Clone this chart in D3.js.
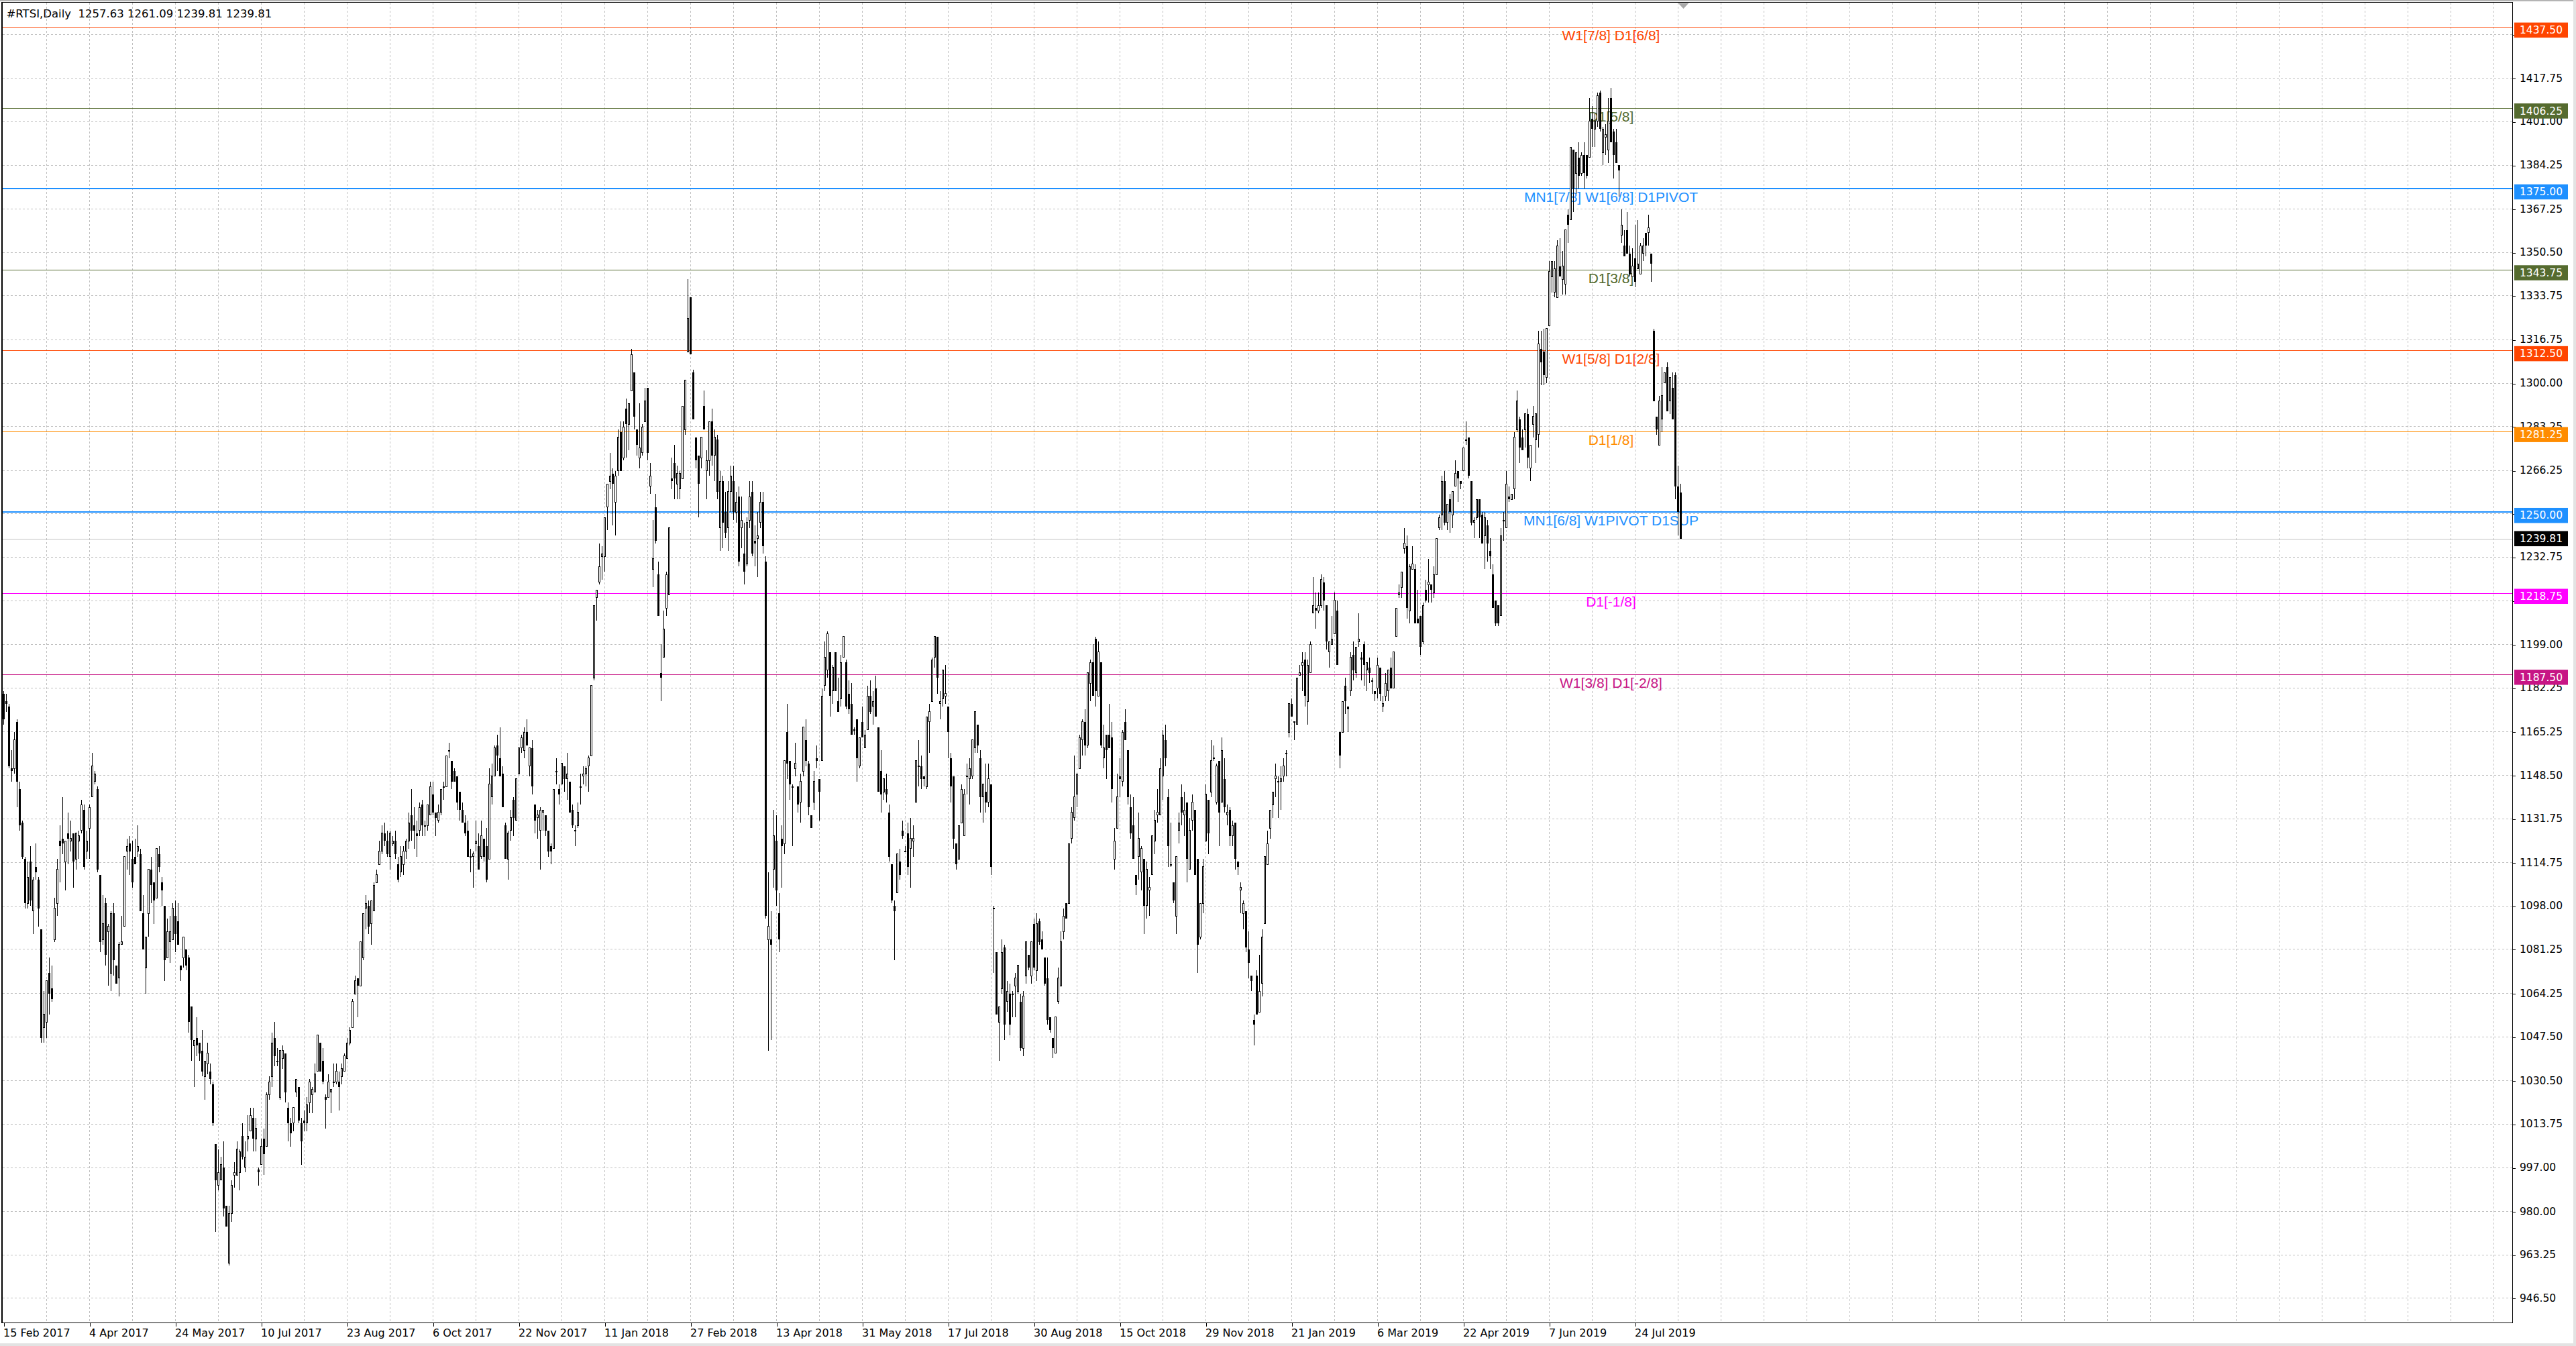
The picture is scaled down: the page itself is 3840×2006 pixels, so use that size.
<!DOCTYPE html>
<html>
<head>
<meta charset="utf-8">
<title>#RTSI,Daily</title>
<script src="https://cdn.jsdelivr.net/npm/d3@7"></script>
<style>
  html, body { margin: 0; padding: 0; background: #ffffff; overflow: hidden; }
  svg { display: block; }
</style>
</head>
<body>
<svg id="chart" width="3840" height="2006"></svg>
<script>
/*  #RTSI daily candles (MT4 style, black on white) with Murrey-type level lines.
    Each bar is [open, high, low, close].
 */

// 15 Feb 2017 .. late Aug 2017
const barsFeb2017 = [
  [1180,1181,1168,1170],[1177,1180,1173,1176],[1175,1176,1151,1152],[1151,1158,1146,1150],[1151,1165,1149,1162],
  [1169,1170,1136,1146],[1143,1146,1127,1129],[1130,1131,1116,1117],[1116,1117,1097,1099],[1099,1115,1097,1109],
  [1115,1121,1098,1100],[1096,1109,1087,1108],[1113,1122,1108,1111],[1108,1109,1090,1097],[1089,1089,1045,1047],
  [1051,1065,1045,1056],[1053,1069,1047,1069],[1072,1078,1056,1064],[1066,1075,1061,1062],[1085,1101,1084,1097],
  [1099,1116,1094,1112],[1123,1129,1107,1121],[1124,1140,1118,1122],[1115,1123,1104,1123],[1126,1134,1114,1124],
  [1123,1131,1119,1124],[1126,1126,1105,1115],[1116,1126,1112,1126],[1123,1127,1116,1125],[1127,1139,1126,1137],
  [1135,1137,1112,1113],[1119,1127,1116,1123],[1128,1137,1116,1136],[1140,1157,1140,1152],[1146,1150,1145,1149],
  [1143,1144,1111,1112],[1110,1110,1080,1084],[1085,1102,1083,1091],[1099,1101,1075,1079],[1088,1091,1067,1090],
  [1072,1096,1065,1095],[1095,1099,1071,1077],[1075,1075,1068,1068],[1070,1084,1063,1083],[1083,1094,1083,1084],
  [1090,1117,1090,1117],[1119,1124,1112,1121],[1122,1125,1110,1119],[1116,1123,1105,1107],[1117,1124,1114,1114],
  [1119,1129,1117,1121],[1118,1120,1096,1096],[1095,1102,1081,1081],[1074,1086,1064,1086],[1095,1112,1086,1112],
  [1112,1117,1099,1106],[1107,1107,1091,1100],[1101,1120,1101,1120],[1118,1121,1111,1113],[1107,1109,1098,1104],
  [1098,1098,1069,1077],[1078,1093,1078,1088],[1084,1094,1076,1088],[1085,1099,1085,1097],[1094,1100,1080,1087],
  [1092,1099,1083,1083],[1075,1075,1069,1073],[1078,1086,1074,1086],[1081,1081,1073,1075],[1078,1079,1049,1053],
  [1059,1059,1038,1046],[1044,1046,1028,1046],[1047,1055,1040,1044],[1045,1045,1038,1041],[1042,1050,1032,1034],
  [1032,1038,1023,1038],[1037,1045,1033,1041],[1034,1037,1029,1031],[1029,1030,1013,1014],[1006,1006,972,992],
  [990,1004,988,995],[992,1001,992,998],[997,1007,978,981],[982,982,974,974],[960,982,959,979],
  [979,992,976,990],[994,999,989,995],[994,1007,994,1004],[995,1004,988,1003],[1009,1014,1000,1001],
  [997,1007,995,1001],[1008,1017,1003,1009],[1011,1020,1011,1017],[1016,1020,1003,1008],[1008,1016,1003,1012],
  [996,997,990,995],[998,1008,998,1005],[1008,1012,994,1002],[1005,1026,1005,1025],[1025,1032,1023,1030],
  [1032,1049,1028,1045],[1047,1053,1036,1040],[1038,1043,1036,1038],[1024,1042,1023,1042],[1039,1044,1035,1042],
  [1041,1041,1022,1026],[1020,1022,1007,1014],[1014,1016,1005,1010],[1014,1020,1011,1020],[1026,1031,1024,1031],
  [1028,1028,1014,1015],[1014,1016,998,1007],[1015,1019,1011,1014],[1014,1024,1011,1021],[1022,1031,1018,1030],
  [1025,1028,1018,1027],[1026,1037,1026,1033],[1034,1048,1034,1048],[1045,1045,1034,1034],[1038,1043,1029,1030],
  [1024,1025,1012,1023],[1024,1033,1024,1030],[1026,1027,1018,1027],[1030,1037,1028,1030],[1030,1037,1029,1034],
  [1030,1034,1019,1028],[1032,1037,1029,1035],[1034,1041,1034,1040],[1039,1047,1039,1045],[1045,1051,1044,1050],
  [1051,1062,1051,1061],[1064,1071,1064,1069],[1070,1070,1055,1067],[1067,1084,1067,1084]
];

// late Aug 2017 .. early Mar 2018
const barsAug2017 = [
  [1078,1095,1077,1095],[1097,1102,1089,1099],[1098,1100,1087,1090],[1091,1100,1083,1100],[1096,1107,1096,1106],
  [1107,1112,1107,1110],[1114,1123,1114,1119],[1119,1129,1118,1126],[1126,1130,1121,1123],[1123,1127,1117,1118],
  [1117,1127,1112,1126],[1122,1125,1121,1123],[1123,1127,1116,1118],[1114,1117,1107,1108],[1111,1121,1109,1117],
  [1114,1121,1110,1119],[1119,1124,1116,1123],[1123,1134,1120,1130],[1133,1143,1123,1127],[1129,1136,1120,1127],
  [1126,1131,1117,1125],[1127,1138,1125,1136],[1137,1139,1125,1129],[1129,1131,1125,1129],[1129,1137,1127,1137],
  [1133,1146,1133,1144],[1141,1146,1133,1134],[1134,1134,1125,1132],[1131,1137,1130,1134],[1134,1143,1133,1143],
  [1144,1146,1139,1144],[1144,1156,1144,1156],[1158,1161,1155,1158],[1154,1154,1143,1146],[1150,1151,1146,1146],
  [1148,1148,1135,1138],[1142,1142,1131,1135],[1135,1138,1130,1130],[1130,1133,1125,1126],[1127,1131,1117,1117],
  [1117,1120,1111,1117],[1117,1119,1105,1118],[1122,1131,1119,1123],[1121,1126,1112,1112],[1117,1131,1116,1125],
  [1124,1124,1115,1117],[1121,1128,1107,1108],[1116,1151,1116,1145],[1140,1153,1137,1148],[1148,1160,1148,1159],
  [1160,1164,1150,1156],[1155,1167,1148,1148],[1149,1152,1136,1136],[1129,1130,1116,1116],[1116,1127,1108,1126],
  [1127,1135,1123,1132],[1139,1140,1125,1132],[1131,1147,1131,1147],[1149,1159,1149,1159],[1159,1164,1157,1163],
  [1158,1167,1155,1165],[1165,1170,1160,1160],[1152,1159,1148,1159],[1159,1162,1141,1144],[1137,1137,1126,1131],
  [1132,1135,1124,1133],[1127,1136,1112,1135],[1134,1135,1127,1135],[1133,1133,1125,1127],[1127,1127,1117,1119],
  [1121,1122,1114,1119],[1120,1143,1120,1143],[1150,1155,1145,1150],[1143,1145,1137,1141],[1145,1153,1145,1153],
  [1152,1152,1142,1147],[1147,1157,1139,1149],[1146,1146,1134,1134],[1135,1137,1128,1129],[1127,1129,1121,1127],
  [1129,1138,1128,1134],[1144,1149,1137,1144],[1148,1152,1145,1149],[1149,1152,1144,1151],[1152,1156,1142,1155],
  [1156,1183,1156,1183],[1186,1214,1185,1214],[1217,1220,1208,1220],[1223,1238,1222,1229],[1233,1237,1224,1234],
  [1233,1248,1227,1248],[1252,1261,1243,1261],[1262,1273,1259,1264],[1265,1267,1245,1261],[1254,1266,1241,1264],
  [1266,1282,1264,1279],[1281,1285,1266,1266],[1271,1285,1270,1283],[1290,1294,1271,1284],[1284,1292,1274,1292],
  [1297,1313,1297,1311],[1304,1304,1282,1287],[1282,1282,1272,1276],[1271,1292,1267,1275],[1273,1284,1272,1283],
  [1285,1298,1285,1293],[1298,1298,1270,1273],[1260,1269,1257,1264],[1228,1247,1221,1232],[1252,1257,1238,1239],
  [1226,1231,1210,1210],[1188,1199,1177,1186],[1194,1212,1194,1205],[1213,1227,1210,1226],[1218,1244,1218,1244],
  [1263,1271,1259,1262],[1269,1276,1255,1263],[1261,1268,1255,1265],[1259,1266,1255,1265],[1263,1291,1263,1291],
  [1282,1301,1280,1301],[1312,1340,1312,1325],[1333,1333,1311,1311],[1304,1305,1286,1286],[1279,1279,1267,1270],
  [1272,1272,1248,1261],[1271,1279,1267,1279],[1291,1297,1282,1282],[1266,1274,1255,1270],[1270,1285,1264,1285]
];

// early Mar 2018 .. mid Sep 2018
const barsMar2018 = [
  [1285,1290,1268,1272],[1272,1282,1262,1279],[1278,1280,1255,1258],[1244,1266,1235,1262],[1262,1264,1236,1246],
  [1250,1258,1240,1242],[1244,1262,1235,1258],[1258,1268,1250,1264],[1262,1268,1247,1250],[1250,1258,1246,1254],
  [1256,1260,1229,1231],[1244,1256,1236,1247],[1234,1246,1222,1227],[1230,1248,1229,1246],[1247,1262,1244,1256],
  [1258,1262,1233,1234],[1239,1245,1229,1238],[1240,1250,1225,1241],[1246,1258,1244,1254],[1254,1258,1234,1237],
  [1231,1233,1093,1094],[1085,1111,1042,1090],[1085,1096,1046,1083],[1112,1135,1105,1125],[1123,1133,1098,1104],
  [1095,1103,1080,1085],[1124,1129,1105,1121],[1122,1154,1118,1154],[1165,1176,1147,1153],[1154,1154,1139,1145],
  [1144,1145,1121,1144],[1151,1161,1148,1153],[1144,1144,1134,1137],[1138,1149,1130,1146],[1150,1167,1148,1167],
  [1162,1170,1152,1154],[1153,1154,1133,1136],[1133,1133,1128,1128],[1138,1150,1135,1146],[1155,1160,1151,1154],
  [1147,1147,1131,1142],[1154,1182,1154,1179],[1183,1200,1181,1194],[1189,1204,1186,1203],[1196,1196,1171,1179],
  [1181,1191,1176,1190],[1196,1196,1181,1181],[1177,1186,1173,1173],[1178,1195,1175,1192],[1194,1202,1194,1202],
  [1192,1193,1174,1175],[1180,1185,1172,1174],[1176,1184,1164,1164],[1166,1167,1164,1166],[1170,1170,1146,1155],
  [1152,1163,1151,1163],[1169,1175,1163,1163],[1159,1166,1159,1164],[1166,1183,1166,1179],[1179,1185,1172,1173],
  [1175,1181,1168,1177],[1182,1187,1171,1171],[1167,1167,1142,1142],[1150,1158,1134,1141],[1142,1147,1139,1147],
  [1143,1149,1138,1141],[1134,1137,1115,1117],[1114,1114,1099,1100],[1098,1100,1077,1096],[1103,1118,1103,1118],
  [1115,1120,1108,1110],[1127,1131,1124,1125],[1119,1121,1119,1119],[1126,1130,1110,1113],[1120,1132,1105,1124],
  [1123,1129,1117,1124],[1138,1154,1138,1154],[1152,1162,1144,1152],[1152,1156,1143,1147],[1148,1148,1144,1147],
  [1144,1171,1143,1171],[1169,1176,1157,1173],[1177,1194,1177,1193],[1194,1202,1190,1202],[1202,1202,1180,1186],
  [1176,1181,1170,1177],[1178,1189,1175,1189],[1179,1191,1176,1180],[1175,1175,1155,1165],[1155,1157,1138,1144],
  [1148,1148,1120,1124],[1122,1122,1112,1114],[1116,1129,1116,1129],[1130,1145,1130,1143],[1125,1143,1125,1141],
  [1148,1153,1141,1148],[1147,1155,1137,1151],[1148,1162,1147,1162],[1159,1173,1157,1173],[1168,1168,1157,1160],
  [1155,1158,1134,1140],[1140,1145,1130,1145],[1142,1153,1134,1138],[1138,1153,1136,1147],[1145,1145,1110,1113],
  [1097,1098,1072,1097],[1080,1080,1056,1056],[1053,1059,1038,1059],[1066,1085,1064,1080],[1082,1083,1046,1052],
  [1061,1069,1057,1065],[1064,1068,1048,1052],[1064,1065,1055,1064],[1067,1072,1055,1070],[1065,1075,1064,1075],
  [1061,1064,1042,1043],[1043,1065,1040,1063],[1071,1084,1068,1084],[1079,1079,1073,1074],[1071,1084,1068,1084],
  [1091,1093,1073,1074],[1073,1095,1069,1091],[1092,1093,1083,1084],[1085,1088,1081,1081],[1078,1078,1067,1068],
  [1070,1078,1052,1054],[1055,1055,1049,1050],[1047,1047,1039,1043],[1041,1055,1041,1055],[1061,1074,1060,1070],
  [1067,1088,1067,1084],[1088,1097,1085,1094],[1099,1099,1093,1093],[1099,1122,1099,1122],[1124,1136,1122,1134]
];

// mid Sep 2018 .. early Mar 2019
const barsSep2018 = [
  [1132,1156,1131,1140],[1141,1149,1136,1149],[1151,1164,1151,1163],[1162,1170,1156,1169],[1169,1174,1156,1160],
  [1160,1188,1159,1188],[1184,1193,1177,1192],[1192,1199,1179,1179],[1201,1202,1175,1181],[1179,1200,1179,1196],
  [1192,1192,1159,1160],[1155,1168,1151,1159],[1164,1164,1147,1158],[1164,1176,1159,1159],[1163,1169,1138,1143],
  [1116,1128,1112,1123],[1128,1149,1128,1140],[1148,1155,1140,1147],[1146,1166,1144,1165],[1169,1174,1162,1162],
  [1158,1158,1137,1140],[1136,1141,1124,1126],[1129,1140,1116,1116],[1110,1110,1102,1106],[1117,1134,1108,1124],
  [1111,1121,1104,1120],[1116,1116,1087,1098],[1098,1115,1093,1112],[1104,1109,1094,1105],[1110,1125,1110,1125],
  [1123,1135,1118,1131],[1133,1143,1130,1134],[1133,1155,1133,1151],[1148,1166,1139,1164],[1162,1168,1152,1155],
  [1140,1143,1113,1121],[1114,1130,1113,1114],[1107,1107,1099,1100],[1094,1117,1087,1117],[1127,1134,1122,1130],
  [1140,1145,1129,1134],[1133,1142,1125,1135],[1138,1138,1107,1116],[1112,1132,1112,1127],[1131,1141,1127,1138],
  [1135,1135,1110,1110],[1116,1116,1072,1083],[1086,1099,1085,1099],[1099,1116,1095,1113],[1123,1145,1123,1141],
  [1139,1139,1118,1126],[1142,1162,1140,1154],[1155,1160,1154,1155],[1138,1153,1137,1152],[1154,1154,1121,1134],
  [1138,1163,1138,1158],[1147,1155,1134,1136],[1133,1137,1129,1134],[1135,1136,1121,1125],[1125,1131,1121,1129],
  [1130,1130,1112,1116],[1115,1115,1110,1113],[1104,1107,1095,1105],[1095,1100,1089,1099],[1096,1096,1080,1082],
  [1081,1088,1070,1076],[1071,1071,1065,1069],[1054,1056,1044,1052],[1071,1073,1056,1056],[1057,1079,1057,1065],
  [1068,1089,1063,1086],[1091,1117,1091,1117],[1114,1127,1114,1122],[1128,1135,1124,1135],[1137,1142,1132,1142],
  [1147,1153,1140,1148],[1146,1148,1132,1146],[1146,1152,1135,1147],[1148,1155,1146,1152],[1157,1158,1148,1157],
  [1165,1176,1163,1176],[1176,1178,1171,1171],[1169,1169,1162,1169],[1168,1186,1168,1186],[1187,1191,1187,1188],
  [1191,1196,1181,1192],[1193,1196,1175,1179],[1177,1193,1168,1191],[1188,1200,1188,1199],[1211,1225,1211,1214],
  [1213,1219,1205,1212],[1212,1219,1211,1214],[1214,1226,1213,1224],[1223,1225,1212,1216],[1214,1214,1197,1200],
  [1196,1200,1190,1200],[1199,1210,1199,1201],[1203,1219,1203,1216],[1212,1216,1191,1191],[1165,1165,1151,1156],
  [1165,1177,1165,1177],[1183,1186,1172,1177],[1175,1175,1165,1174],[1181,1196,1179,1194],[1195,1200,1185,1189],
  [1188,1198,1186,1198],[1200,1211,1198,1201],[1194,1196,1185,1193],[1199,1200,1183,1191],[1189,1192,1181,1192],
  [1190,1194,1184,1188],[1185,1186,1180,1185],[1181,1181,1177,1180],[1182,1194,1178,1191],[1190,1190,1177,1180],
  [1175,1179,1173,1176],[1179,1188,1177,1184],[1181,1189,1177,1189],[1190,1194,1182,1182],[1182,1196,1182,1196],
  [1202,1213,1202,1213],[1218,1222,1217,1219],[1221,1227,1217,1227],[1236,1244,1234,1238],[1237,1241,1209,1213],
  [1212,1230,1207,1229],[1228,1237,1228,1230],[1228,1230,1207,1207],[1209,1220,1207,1207],[1210,1210,1195,1198],
  [1200,1215,1199,1214],[1220,1224,1215,1216],[1222,1232,1215,1223],[1222,1222,1215,1220],[1219,1229,1217,1226]
];

// early Mar 2019 .. Aug 2019
const barsMar2019 = [
  [1226,1240,1226,1240],[1244,1249,1243,1248],[1249,1264,1243,1262],[1262,1266,1245,1246],[1246,1253,1243,1253],
  [1255,1257,1242,1250],[1249,1258,1244,1258],[1260,1270,1260,1265],[1266,1266,1254,1263],[1262,1262,1259,1261],
  [1266,1275,1266,1275],[1278,1285,1276,1278],[1279,1279,1263,1264],[1262,1262,1245,1246],[1246,1248,1240,1247],
  [1248,1255,1247,1255],[1255,1255,1240,1248],[1249,1250,1238,1238],[1241,1250,1228,1248],[1245,1247,1231,1238],
  [1235,1240,1228,1233],[1226,1230,1213,1213],[1216,1216,1206,1207],[1214,1214,1206,1207],[1210,1244,1210,1241],
  [1247,1250,1239,1247],[1244,1266,1244,1261],[1256,1260,1254,1255],[1255,1257,1255,1257],[1259,1281,1255,1279],
  [1282,1297,1281,1293],[1286,1287,1269,1275],[1279,1282,1274,1274],[1282,1288,1275,1288],[1288,1290,1267,1271],
  [1267,1276,1262,1276],[1284,1291,1279,1287],[1278,1288,1269,1288],[1280,1320,1275,1315],[1313,1320,1299,1308],
  [1312,1321,1299,1303],[1302,1321,1300,1321],[1322,1347,1322,1343],[1341,1347,1335,1347],[1335,1347,1333,1344],
  [1333,1355,1333,1353],[1345,1356,1341,1341],[1340,1351,1334,1345],[1338,1359,1334,1359],[1365,1367,1354,1361],
  [1363,1391,1363,1391],[1390,1390,1366,1375],[1381,1389,1373,1389],[1387,1393,1375,1380],[1381,1389,1380,1388],
  [1388,1393,1375,1381],[1388,1388,1379,1380],[1387,1410,1387,1401],[1402,1407,1391,1398],[1398,1404,1391,1401],
  [1401,1412,1399,1411],[1412,1413,1397,1398],[1389,1399,1384,1398],[1395,1400,1388,1396],[1390,1410,1385,1401],
  [1410,1414,1393,1393],[1397,1398,1379,1388],[1393,1398,1385,1385],[1384,1384,1372,1382],[1357,1367,1354,1361],
  [1353,1359,1349,1349],[1359,1366,1350,1350],[1350,1353,1341,1342],[1341,1352,1341,1345],[1348,1361,1337,1339],
  [1344,1363,1344,1346],[1342,1354,1342,1353],[1350,1356,1347,1353],[1358,1358,1349,1353],[1358,1365,1353,1360],
  [1350,1350,1339,1346],[1320,1321,1293,1293],[1287,1287,1280,1282],[1276,1295,1276,1293],[1286,1306,1281,1295],
  [1300,1304,1300,1304],[1306,1308,1289,1289],[1293,1302,1288,1302],[1298,1304,1286,1286],[1303,1304,1255,1260],
  [1260,1268,1241,1250],[1257.63,1261.09,1239.81,1239.81]
];

// Time axis labels, one every 32 bars starting at the first bar
const dateLabels = ["15 Feb 2017", "4 Apr 2017", "24 May 2017", "10 Jul 2017", "23 Aug 2017",
                    "6 Oct 2017", "22 Nov 2017", "11 Jan 2018", "27 Feb 2018", "13 Apr 2018",
                    "31 May 2018", "17 Jul 2018", "30 Aug 2018", "15 Oct 2018", "29 Nov 2018",
                    "21 Jan 2019", "6 Mar 2019", "22 Apr 2019", "7 Jun 2019", "24 Jul 2019"];

// Price axis labels (right side)
const priceTicks = [1434.75, 1417.75, 1401.00, 1384.25, 1367.25, 1350.50, 1333.75, 1316.75, 1300.00, 1283.25,
                    1266.25, 1249.50, 1232.75, 1216.00, 1199.00, 1182.25, 1165.25, 1148.50, 1131.75, 1114.75,
                    1098.00, 1081.25, 1064.25, 1047.50, 1030.50, 1013.75, 997.00, 980.00, 963.25, 946.50];

// Horizontal level lines and their captions
const levelPrices = [1437.50, 1406.25, 1375.00, 1343.75, 1312.50, 1281.25, 1250.00, 1218.75, 1187.50];
const levelNames  = ["W1[7/8] D1[6/8]", "D1[5/8]", "MN1[7/8] W1[6/8] D1PIVOT", "D1[3/8]", "W1[5/8] D1[2/8]",
                     "D1[1/8]", "MN1[6/8] W1PIVOT D1SUP", "D1[-1/8]", "W1[3/8] D1[-2/8]"];

const symbolName = "#RTSI,Daily";


// ---------------------------  STYLE  ---------------------------
const levelColors = ["#FF4500", "#556B2F", "#1E90FF", "#556B2F", "#FF4500",
                     "#FF8C00", "#1E90FF", "#FF00FF", "#C71585"];
const levelWidths = [1, 1, 2, 1, 1, 1, 2, 1, 1];

const W = 3840, H = 2006;
const plot = {left: 4, top: 4, right: 3745, bottom: 1971};
const axisFont = "'DejaVu Sans', Verdana, sans-serif";
const levelFont = "'Liberation Sans', Arial, sans-serif";
const gridColor = "#C0C0C0";


// ---------------------------  SCALES  ---------------------------
const bars = [].concat(barsFeb2017, barsAug2017, barsMar2018, barsSep2018, barsMar2019);
const lastBar = bars[bars.length - 1];

// one bar every 4 px; domain runs past the data into the empty chart-shift area
const x = d3.scaleLinear().domain([0, 935]).range([5.5, 5.5 + 935 * 4]);
const y = d3.scaleLinear().domain([937.0, 1446.7]).range([plot.bottom, 4.6]);

const crisp = v => Math.round(v) + 0.5;    // put a 1px line on a pixel centre

const svg = d3.select("#chart");

svg.append("rect").attr("width", W).attr("height", H).attr("fill", "#ffffff");


// ---------------------------  GRID  ---------------------------
const grid = svg.append("g").attr("shape-rendering", "crispEdges");

grid.selectAll("line.vgrid")
    .data(d3.range(16, 936, 16).filter(i => x(i) < plot.right))
    .join("line")
    .attr("x1", d => x(d)).attr("x2", d => x(d))
    .attr("y1", plot.top).attr("y2", plot.bottom)
    .attr("stroke", gridColor).attr("stroke-width", 1)
    .attr("stroke-dasharray", "3,3");

grid.selectAll("line.hgrid")
    .data(priceTicks)
    .join("line")
    .attr("x1", plot.left).attr("x2", plot.right)
    .attr("y1", d => crisp(y(d))).attr("y2", d => crisp(y(d)))
    .attr("stroke", gridColor).attr("stroke-width", 1)
    .attr("stroke-dasharray", "3,3");


// ---------------------------  LEVELS  ---------------------------
const levels = levelPrices.map((p, i) => ({price: p, name: levelNames[i], color: levelColors[i], width: levelWidths[i]}));

const gLevels = svg.append("g");

// current price line
gLevels.append("line")
    .attr("x1", plot.left).attr("x2", plot.right)
    .attr("y1", crisp(y(lastBar[3]))).attr("y2", crisp(y(lastBar[3])))
    .attr("stroke", "#C0C0C0").attr("stroke-width", 1)
    .attr("shape-rendering", "crispEdges");

gLevels.selectAll("line.level")
    .data(levels)
    .join("line")
    .attr("x1", plot.left).attr("x2", plot.right)
    .attr("y1", d => d.width === 1 ? crisp(y(d.price)) : Math.round(y(d.price)))
    .attr("y2", d => d.width === 1 ? crisp(y(d.price)) : Math.round(y(d.price)))
    .attr("stroke", d => d.color).attr("stroke-width", d => d.width)
    .attr("shape-rendering", "crispEdges");

const captionBar = 599;     // captions are centred over this bar
gLevels.selectAll("text.level")
    .data(levels)
    .join("text")
    .attr("x", x(captionBar))
    .attr("y", d => y(d.price) + 20)
    .attr("text-anchor", "middle")
    .attr("font-family", levelFont)
    .attr("font-size", 21)
    .attr("fill", d => d.color)
    .text(d => d.name);


// ---------------------------  CANDLES  ---------------------------
const gCandles = svg.append("g").attr("shape-rendering", "crispEdges");

const candle = gCandles.selectAll("g.candle")
    .data(bars)
    .join("g");

candle.append("line")
    .attr("x1", (d, i) => x(i)).attr("x2", (d, i) => x(i))
    .attr("y1", d => y(d[1])).attr("y2", d => y(d[2]))
    .attr("stroke", "#000000").attr("stroke-width", 1);

candle.append("rect")
    .attr("x", (d, i) => d[3] >= d[0] ? x(i) - 1 : x(i) - 1.5)
    .attr("width", d => d[3] >= d[0] ? 2 : 3)
    .attr("y", d => y(Math.max(d[0], d[3])))
    .attr("height", d => Math.max(1, Math.abs(y(d[0]) - y(d[3]))))
    .attr("fill", d => d[3] >= d[0] ? "#ffffff" : "#000000")
    .attr("stroke", d => d[3] >= d[0] ? "#000000" : "none")
    .attr("stroke-width", 1);


// ---------------------------  AXES  ---------------------------
const yAxis = svg.append("g")
    .attr("transform", `translate(${plot.right + 0.5},0)`)
    .call(d3.axisRight(y).tickValues(priceTicks).tickFormat(d3.format(".2f"))
            .tickSize(4).tickPadding(6.5));
yAxis.select(".domain").remove();
yAxis.attr("font-family", axisFont).attr("font-size", 15.5);
yAxis.selectAll("line").attr("stroke", "#000000").attr("shape-rendering", "crispEdges")
     .attr("transform", d => `translate(0,${crisp(y(d)) - y(d)})`);
yAxis.selectAll("text").attr("fill", "#000000");

const xAxis = svg.append("g")
    .attr("transform", `translate(0,${plot.bottom + 0.5})`)
    .call(d3.axisBottom(x).tickValues(dateLabels.map((d, i) => i * 32))
            .tickFormat((d, i) => dateLabels[i]).tickSize(5).tickPadding(4.5));
xAxis.select(".domain").remove();
xAxis.attr("font-family", axisFont).attr("font-size", 16);
xAxis.selectAll("line").attr("stroke", "#000000").attr("shape-rendering", "crispEdges");
xAxis.selectAll("text").attr("text-anchor", "start").attr("x", -1).attr("fill", "#000000");

// frame of the chart window
const frame = svg.append("g").attr("shape-rendering", "crispEdges");
frame.append("rect")
    .attr("x", plot.left - 0.5).attr("y", plot.top - 0.5)
    .attr("width", plot.right - plot.left + 1).attr("height", plot.bottom - plot.top + 1)
    .attr("fill", "none").attr("stroke", "#000000").attr("stroke-width", 1);
frame.append("line")
    .attr("x1", plot.left - 1.5).attr("x2", plot.left - 1.5)
    .attr("y1", plot.top - 1).attr("y2", plot.bottom + 1)
    .attr("stroke", "#000000").attr("stroke-width", 1);
frame.append("rect").attr("x", 0).attr("y", 0).attr("width", W).attr("height", 2).attr("fill", "#B4B4B4");
frame.append("rect").attr("x", W - 4).attr("y", 0).attr("width", 4).attr("height", H).attr("fill", "#E3E3E3");
frame.append("rect").attr("x", 0).attr("y", H - 4).attr("width", W).attr("height", 4).attr("fill", "#E3E3E3");


// ---------------------------  PRICE TAGS  ---------------------------
const fmt = d3.format(".2f");
const tags = svg.append("g").attr("font-family", axisFont).attr("font-size", 15.5);

tags.selectAll("rect.level")
    .data(levels)
    .join("rect")
    .attr("x", plot.right + 3).attr("width", 80)
    .attr("y", d => y(d.price) - 6.5).attr("height", 22.5)
    .attr("fill", d => d.color);

tags.selectAll("text.level")
    .data(levels)
    .join("text")
    .attr("x", plot.right + 11)
    .attr("y", d => y(d.price) + 10)
    .attr("fill", "#ffffff")
    .text(d => fmt(d.price));

tags.append("rect")
    .attr("x", plot.right + 3).attr("width", 80)
    .attr("y", y(lastBar[3]) - 11.3).attr("height", 22.6)
    .attr("fill", "#000000");
tags.append("text")
    .attr("x", plot.right + 11)
    .attr("y", y(lastBar[3]) + 5.6)
    .attr("fill", "#ffffff")
    .text(fmt(lastBar[3]));


// ---------------------------  TITLE + SHIFT MARK  ---------------------------
svg.append("text")
    .attr("x", 9.5).attr("y", 26)
    .attr("font-family", axisFont).attr("font-size", 16.5)
    .attr("fill", "#000000")
    .style("white-space", "pre")
    .text(`${symbolName}  ${lastBar.map(fmt).join(" ")}`);

// chart-shift marker sits just after the last bar
const shiftX = x(bars.length);
svg.append("path")
    .attr("d", `M${shiftX - 8},${plot.top + 0.5} L${shiftX + 8},${plot.top + 0.5} L${shiftX},${plot.top + 9} Z`)
    .attr("fill", "#A8A8A8");
</script>
</body>
</html>
